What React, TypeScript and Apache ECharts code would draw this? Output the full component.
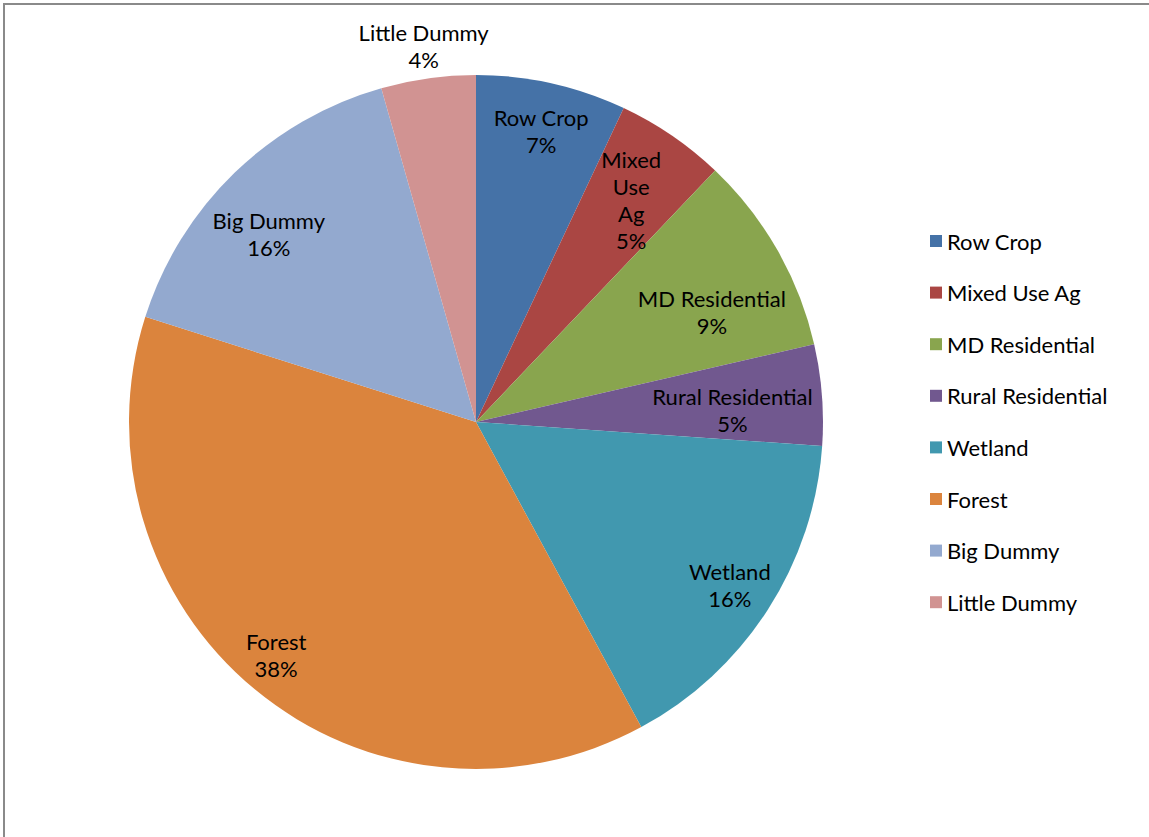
import React, { useEffect, useRef } from "react";
import * as echarts from "echarts";

const categories = [
  "Row Crop",
  "Mixed Use Ag",
  "MD Residential",
  "Rural Residential",
  "Wetland",
  "Forest",
  "Big Dummy",
  "Little Dummy",
];
// how each slice label is wrapped inside the pie
const labelNames = [
  "Row Crop",
  "Mixed\nUse\nAg",
  "MD Residential",
  "Rural Residential",
  "Wetland",
  "Forest",
  "Big Dummy",
  "Little Dummy",
];
const values = [7.0, 5.1, 9.3, 4.7, 16.0, 37.8, 15.7, 4.4];
const colors = [
  "#4572A7",
  "#AA4643",
  "#89A54E",
  "#71588F",
  "#4198AF",
  "#DB843D",
  "#93A9CF",
  "#D19392",
];
// label distance from centre (fraction of radius) and angular nudge (deg), Excel "best fit"
const labelRadius = [0.86, 0.78, 0.75, 0.74, 0.87, 0.885, 0.806, 1.095];
const labelShift = [0, 0.6, 4.7, 1.8, 0, 1, -3.7, 0];

const CX = 476;
const CY = 422;
const R = 347;
const FONT = "Lato, 'Open Sans', sans-serif";

export default function App() {
  const ref = useRef<HTMLDivElement>(null);
  useEffect(() => {
    if (!ref.current) return;
    const chart = echarts.init(ref.current, undefined, { renderer: "svg" });
    const total = values.reduce((a, b) => a + b, 0);
    const mids: number[] = [];
    let acc = 0;
    values.forEach((v) => {
      mids.push((acc + v / 2) / total);
      acc += v;
    });
    chart.setOption({
      animation: false,
      backgroundColor: "#fff",
      graphic: [
        {
          type: "rect",
          shape: { x: 4, y: 4, width: 1300, height: 1000 },
          style: { fill: "none", stroke: "#8a8a8a", lineWidth: 2 },
          silent: true,
        },
      ],
      legend: {
        orient: "vertical",
        left: 925,
        top: 225,
        itemWidth: 12,
        itemHeight: 12,
        itemGap: 29.6,
        icon: "rect",
        data: categories,
        textStyle: {
          fontFamily: FONT,
          fontSize: 22,
          color: "#000",
          lineHeight: 20,
          padding: [0, 0, 0, 0],
        },
      },
      series: [
        {
          type: "pie",
          center: [CX, CY],
          radius: R,
          startAngle: 90,
          clockwise: true,
          avoidLabelOverlap: false,
          label: {
            show: true,
            position: "inside",
            fontFamily: FONT,
            fontSize: 22,
            color: "#000",
            lineHeight: 27,
            align: "center",
            formatter: (p: any) =>
              `${labelNames[p.dataIndex]}\n${Math.round((p.value / total) * 100)}%`,
          },
          labelLayout: (p: any) => {
            const i = p.dataIndex;
            const th = mids[i] * Math.PI * 2 + (labelShift[i] * Math.PI) / 180;
            const rr = labelRadius[i] * R;
            return {
              x: CX + rr * Math.sin(th),
              y: CY - rr * Math.cos(th),
              align: "center",
              verticalAlign: "middle",
            };
          },
          labelLine: { show: false },
          emphasis: { disabled: true },
          data: categories.map((name, i) => ({
            name,
            value: values[i],
            itemStyle: { color: colors[i] },
          })),
        },
      ],
    });
    return () => chart.dispose();
  }, []);
  return (
    <div
      ref={ref}
      style={{ position: "fixed", left: 0, top: 0, width: 1149, height: 837 }}
    />
  );
}
